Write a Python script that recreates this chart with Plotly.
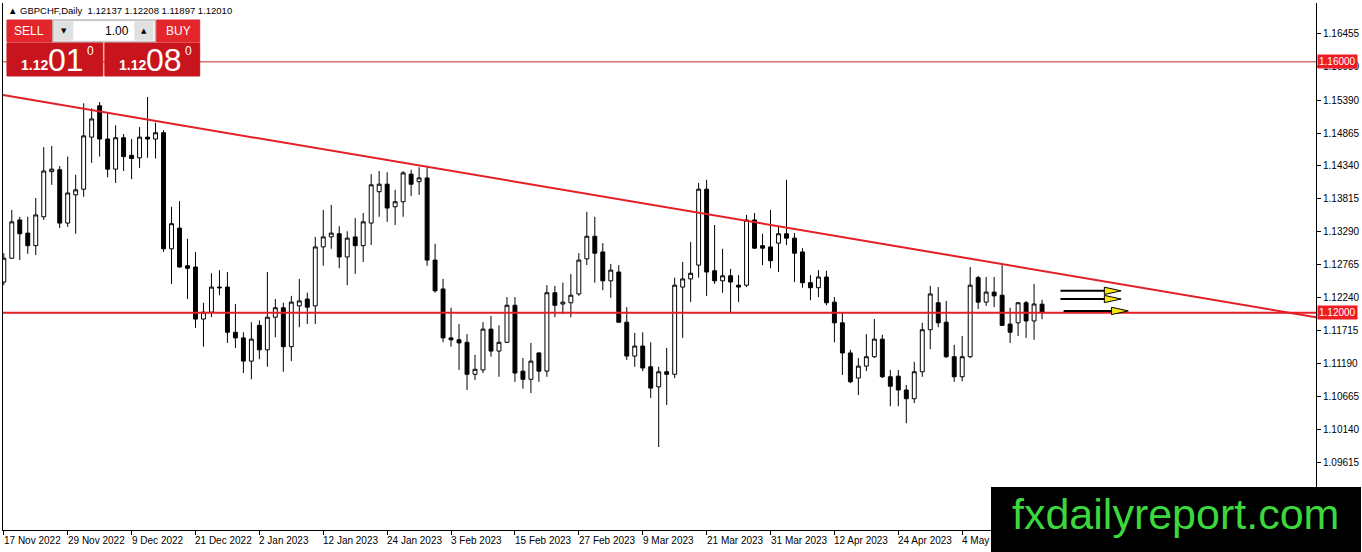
import plotly.graph_objects as go

# GBPCHF daily bars, 17 Nov 2022 .. 18 May 2023 (one bar per weekday)
opens = [
    1.1249, 1.1287, 1.1348, 1.1327, 1.1307, 1.1353, 1.1425, 1.1428, 1.1343, 1.1388,
    1.1397, 1.1480, 1.1530, 1.1477, 1.1429, 1.1479, 1.1451, 1.1447, 1.1480, 1.1477,
    1.1487, 1.1302, 1.1335, 1.1275, 1.1273, 1.1190, 1.1201, 1.1241, 1.1241, 1.1169,
    1.1160, 1.1123, 1.1180, 1.1141, 1.1193, 1.1208, 1.1146, 1.1211, 1.1222, 1.1211,
    1.1305, 1.1321, 1.1326, 1.1289, 1.1321, 1.1307, 1.1343, 1.1393, 1.1405, 1.1369,
    1.1377, 1.1421, 1.1409, 1.1415, 1.1284, 1.1238, 1.1160, 1.1157, 1.1153, 1.1102,
    1.1109, 1.1174, 1.1139, 1.1153, 1.1212, 1.1107, 1.1094, 1.1136, 1.1107, 1.1232,
    1.1214, 1.1216, 1.1230, 1.1286, 1.1322, 1.1297, 1.1251, 1.1265, 1.1185, 1.1131,
    1.1147, 1.1114, 1.1082, 1.1106, 1.1102, 1.1241, 1.1254, 1.1276, 1.1397, 1.1267,
    1.1251, 1.1259, 1.1244, 1.1244, 1.1348, 1.1307, 1.1305, 1.1311, 1.1326, 1.1319,
    1.1297, 1.1248, 1.1240, 1.1257, 1.1217, 1.1184, 1.1136, 1.1096, 1.1115, 1.1130,
    1.1158, 1.1098, 1.1099, 1.1077, 1.1063, 1.1106, 1.1173, 1.1216, 1.1185, 1.1130,
    1.1098, 1.1130, 1.1256, 1.1217, 1.1233, 1.1228, 1.1182, 1.1184, 1.1216, 1.1187,
    1.12137,
]
highs = [
    1.1295, 1.1364, 1.1353, 1.1353, 1.1383, 1.1464, 1.1466, 1.1434, 1.1449, 1.1420,
    1.1534, 1.1526, 1.1536, 1.1520, 1.1499, 1.1485, 1.1477, 1.1496, 1.1544, 1.1503,
    1.1491, 1.1369, 1.1378, 1.1318, 1.1297, 1.1216, 1.1263, 1.1268, 1.1265, 1.1214,
    1.1169, 1.1185, 1.1188, 1.1265, 1.1222, 1.1216, 1.1227, 1.1254, 1.1232, 1.1321,
    1.1364, 1.1372, 1.1338, 1.1330, 1.1351, 1.1359, 1.1421, 1.1426, 1.1424, 1.1396,
    1.1426, 1.1428, 1.1432, 1.1432, 1.1310, 1.1254, 1.1208, 1.1182, 1.1166, 1.1133,
    1.1185, 1.1195, 1.1180, 1.1225, 1.1225, 1.1128, 1.1152, 1.1137, 1.1244, 1.1243,
    1.1248, 1.1262, 1.1295, 1.1361, 1.1353, 1.1311, 1.1278, 1.1276, 1.1209, 1.1168,
    1.1169, 1.1153, 1.1114, 1.1144, 1.1256, 1.1281, 1.1313, 1.1407, 1.1412, 1.1340,
    1.1302, 1.1270, 1.1260, 1.1356, 1.1359, 1.1326, 1.1364, 1.1338, 1.1412, 1.1327,
    1.1303, 1.1260, 1.1268, 1.1267, 1.1225, 1.1201, 1.1141, 1.1128, 1.1166, 1.1190,
    1.1165, 1.1109, 1.1109, 1.1085, 1.1122, 1.1184, 1.1243, 1.1241, 1.1219, 1.1149,
    1.1163, 1.1273, 1.1259, 1.1257, 1.1257, 1.1276, 1.1208, 1.1217, 1.1219, 1.1246,
    1.12208,
]
lows = [
    1.1244, 1.1286, 1.1284, 1.1294, 1.1292, 1.1348, 1.1404, 1.1335, 1.1337, 1.1326,
    1.1385, 1.1439, 1.1449, 1.1416, 1.1407, 1.1426, 1.1413, 1.1431, 1.1447, 1.1446,
    1.1297, 1.1246, 1.1272, 1.1222, 1.1176, 1.1146, 1.1193, 1.1228, 1.1152, 1.1144,
    1.1104, 1.1094, 1.1126, 1.1114, 1.1161, 1.1106, 1.1123, 1.1177, 1.1182, 1.1182,
    1.1275, 1.1302, 1.1271, 1.1244, 1.1262, 1.1281, 1.1308, 1.1353, 1.1345, 1.1340,
    1.1353, 1.1386, 1.1388, 1.1275, 1.1232, 1.1153, 1.1146, 1.1109, 1.1077, 1.1093,
    1.1104, 1.1130, 1.1098, 1.1152, 1.1090, 1.1079, 1.1072, 1.1090, 1.1098, 1.1193,
    1.1198, 1.1193, 1.1227, 1.1276, 1.1248, 1.1236, 1.1224, 1.1184, 1.1125, 1.1114,
    1.1107, 1.1064, 1.0986, 1.1053, 1.1096, 1.1160, 1.1217, 1.1256, 1.1227, 1.1246,
    1.1232, 1.1201, 1.1217, 1.1241, 1.1302, 1.1276, 1.1271, 1.1265, 1.1308, 1.1249,
    1.1240, 1.1220, 1.1225, 1.1212, 1.1153, 1.1101, 1.1088, 1.1069, 1.1107, 1.1128,
    1.1096, 1.1051, 1.1051, 1.1024, 1.1056, 1.1098, 1.1142, 1.1177, 1.1128, 1.1090,
    1.1091, 1.1128, 1.1206, 1.1211, 1.1209, 1.1179, 1.1152, 1.1163, 1.1160, 1.1157,
    1.11897,
]
closes = [
    1.1287, 1.1345, 1.1326, 1.1307, 1.1356, 1.1426, 1.1429, 1.1343, 1.1391, 1.1396,
    1.1482, 1.1509, 1.1477, 1.1429, 1.1479, 1.1449, 1.1446, 1.1480, 1.1477, 1.1487,
    1.1302, 1.1342, 1.1273, 1.1271, 1.1190, 1.1201, 1.1241, 1.1240, 1.1169, 1.1160,
    1.1123, 1.1158, 1.1141, 1.1193, 1.1208, 1.1146, 1.1217, 1.1219, 1.1209, 1.1305,
    1.1321, 1.1327, 1.1289, 1.1319, 1.1307, 1.1345, 1.1404, 1.1405, 1.1367, 1.1377,
    1.1423, 1.1405, 1.1415, 1.1284, 1.1235, 1.1160, 1.1157, 1.1152, 1.1102, 1.1110,
    1.1174, 1.1139, 1.1153, 1.1212, 1.1104, 1.1094, 1.1123, 1.1107, 1.1232, 1.1212,
    1.1217, 1.1228, 1.1284, 1.1322, 1.1295, 1.1251, 1.1268, 1.1185, 1.1131, 1.1147,
    1.1112, 1.1080, 1.1106, 1.1102, 1.1244, 1.1254, 1.1263, 1.1397, 1.1265, 1.1251,
    1.1259, 1.1249, 1.1241, 1.1348, 1.1303, 1.1303, 1.1283, 1.1326, 1.1319, 1.1295,
    1.1248, 1.1240, 1.1257, 1.1216, 1.1184, 1.1136, 1.1090, 1.1115, 1.1130, 1.1158,
    1.1098, 1.1083, 1.1077, 1.1063, 1.1106, 1.1173, 1.1230, 1.1184, 1.1130, 1.1098,
    1.1130, 1.1244, 1.1217, 1.1233, 1.1227, 1.1180, 1.1169, 1.1216, 1.1187, 1.1214,
    1.12010,
]

# bottom axis labels, one every 8 bars
tick_idx = [0, 8, 16, 24, 32, 40, 48, 56, 64, 72, 80, 88, 96, 104, 112, 120]
tick_labels = [
    "17 Nov 2022", "29 Nov 2022", "9 Dec 2022", "21 Dec 2022", "2 Jan 2023",
    "12 Jan 2023", "24 Jan 2023", "3 Feb 2023", "15 Feb 2023", "27 Feb 2023",
    "9 Mar 2023", "21 Mar 2023", "31 Mar 2023", "12 Apr 2023", "24 Apr 2023", "4 May 2023",
]
price_ticks = [1.16455, 1.15930, 1.15390, 1.14865, 1.14340, 1.13815, 1.13290,
               1.12765, 1.12240, 1.11715, 1.11190, 1.10665, 1.10140, 1.09615]

# drawn objects
levels = [1.16000, 1.12000]
trend_x = [-0.1, 164.3]
trend_y = [1.1547, 1.1193]
arrow_y = [1.1235, 1.1222, 1.1203]
arrow_x0 = [132.3, 132.3, 132.7]
arrow_x1 = [137.8, 137.8, 138.7]

bid_big, ask_big = "01", "08"

W, H = 1362, 552
L, R, T, B = 2, 45, 3, 22
RED = "#e31e24"


def px(x):
    return (x - L) / (W - L - R)


def py(y):
    return (H - B - y) / (H - T - B)


fig = go.Figure()
fig.add_trace(go.Candlestick(
    x=list(range(len(opens))), open=opens, high=highs, low=lows, close=closes,
    increasing=dict(line=dict(color="black", width=1), fillcolor="white"),
    decreasing=dict(line=dict(color="black", width=1), fillcolor="black"),
    whiskerwidth=0, hoverinfo="skip",
))

shapes = []
# horizontal levels and trend line
shapes.append(dict(type="line", xref="paper", yref="y", x0=0, x1=1, y0=levels[0], y1=levels[0],
                   line=dict(color="#c8282c", width=1), layer="above"))
shapes.append(dict(type="line", xref="paper", yref="y", x0=0, x1=1, y0=levels[1], y1=levels[1],
                   line=dict(color=RED, width=2), layer="above"))
shapes.append(dict(type="line", xref="x", yref="y", x0=trend_x[0], x1=trend_x[1],
                   y0=trend_y[0], y1=trend_y[1], line=dict(color=RED, width=2), layer="above"))

# arrows
for ay, ax0, ax1 in zip(arrow_y, arrow_x0, arrow_x1):
    shapes.append(dict(type="line", xref="x", yref="y", x0=ax0, x1=ax1, y0=ay, y1=ay,
                       line=dict(color="black", width=2), layer="above"))
    shapes.append(dict(type="path", xref="x", yref="y",
                       path=f"M {ax1},{ay + 0.00058} L {ax1 + 2.1},{ay} L {ax1},{ay - 0.00058} Z",
                       fillcolor="#f7e812", line=dict(color="black", width=1), layer="above"))


def box(x0, y0, x1, y1, fill, line=None):
    shapes.append(dict(type="rect", xref="paper", yref="paper",
                       x0=px(x0), x1=px(x1), y0=py(y1), y1=py(y0), fillcolor=fill,
                       line=dict(color=line or fill, width=1), layer="above"))


# one-click trading panel
box(6, 20, 51, 42, "#e3262b")
box(52, 20, 155, 42, "#f2f2f2", "#9a9a9a")
box(54, 22, 72, 40, "#e0e0e0")
box(134, 22, 152, 40, "#e0e0e0")
box(73, 22, 133, 40, "white")
box(156, 20, 199, 42, "#e3262b")
box(6, 43, 102, 76, "#c8141c")
box(104, 43, 199, 76, "#c8141c")

ann = []


def text(x, y, s, size, color="black", anchor="left", family="Liberation Sans"):
    ann.append(dict(xref="paper", yref="paper", x=px(x), y=py(y), text=s, showarrow=False,
                    xanchor=anchor, yanchor="middle", font=dict(size=size, color=color, family=family)))


text(5, 10, "▲ GBPCHF,Daily  %.5f %.5f %.5f %.5f" % (opens[-1], highs[-1], lows[-1], closes[-1]), 9.5)
text(28, 31, "SELL", 12, "white", "center")
text(178, 31, "BUY", 12, "white", "center")
text(63, 31, "▼", 7, "black", "center", "DejaVu Sans")
text(143, 31, "▲", 7, "black", "center", "DejaVu Sans")
text(130, 31, "1.00", 12, "black", "right")
for bx, big in [(18, bid_big), (116, ask_big)]:
    text(bx, 65, "<b>1.12</b>", 14, "white")
    text(bx + 27, 60, big, 32, "white")
    text(bx + 66, 51, "0", 12, "white")

# bottom labels, left-aligned on their ticks like the terminal draws them
for i, lab in zip(tick_idx, tick_labels):
    ann.append(dict(xref="x", yref="paper", x=i, y=0, yshift=-3, xshift=-2, text=lab,
                    showarrow=False, xanchor="left", yanchor="top", font=dict(size=10)))

# price tags for the two levels
for lv in levels:
    ann.append(dict(xref="paper", yref="y", x=1, y=lv, xshift=1, text="%.5f" % lv, showarrow=False,
                    xanchor="left", yanchor="middle", bgcolor="#ee1c24", borderpad=1,
                    font=dict(size=10, color="white")))

# watermark
ann.append(dict(xref="paper", yref="paper", x=px(992), y=py(487), xanchor="left", yanchor="top",
                text=" ", width=370, height=65, bgcolor="black", borderpad=0, borderwidth=0,
                showarrow=False))
text(1176, 514, "fxdailyreport.com", 43, "#3cd73c", "center")

fig.update_layout(
    width=W, height=H,
    margin=dict(l=L, r=R, t=T, b=B),
    paper_bgcolor="white", plot_bgcolor="white",
    showlegend=False,
    font=dict(family="Liberation Sans", size=10, color="black"),
    shapes=shapes, annotations=ann,
    xaxis=dict(range=[-0.1, 164.3], tickvals=tick_idx, showticklabels=False,
               ticks="outside", ticklen=4, tickcolor="black",
               showline=True, linecolor="black", linewidth=1,
               showgrid=False, zeroline=False, rangeslider=dict(visible=False), fixedrange=True),
    yaxis=dict(side="right", range=[1.08538, 1.16938], tickvals=price_ticks, tickformat=".5f",
               ticks="outside", ticklen=4, tickcolor="black",
               showline=True, linecolor="black", linewidth=1, mirror=True,
               showgrid=False, zeroline=False, fixedrange=True),
)

# page margin would push the 1362x552 figure off the window
fig.write_html("out.html", config={"displayModeBar": False},
               post_script="document.body.style.margin='0';document.body.style.overflow='hidden';")
